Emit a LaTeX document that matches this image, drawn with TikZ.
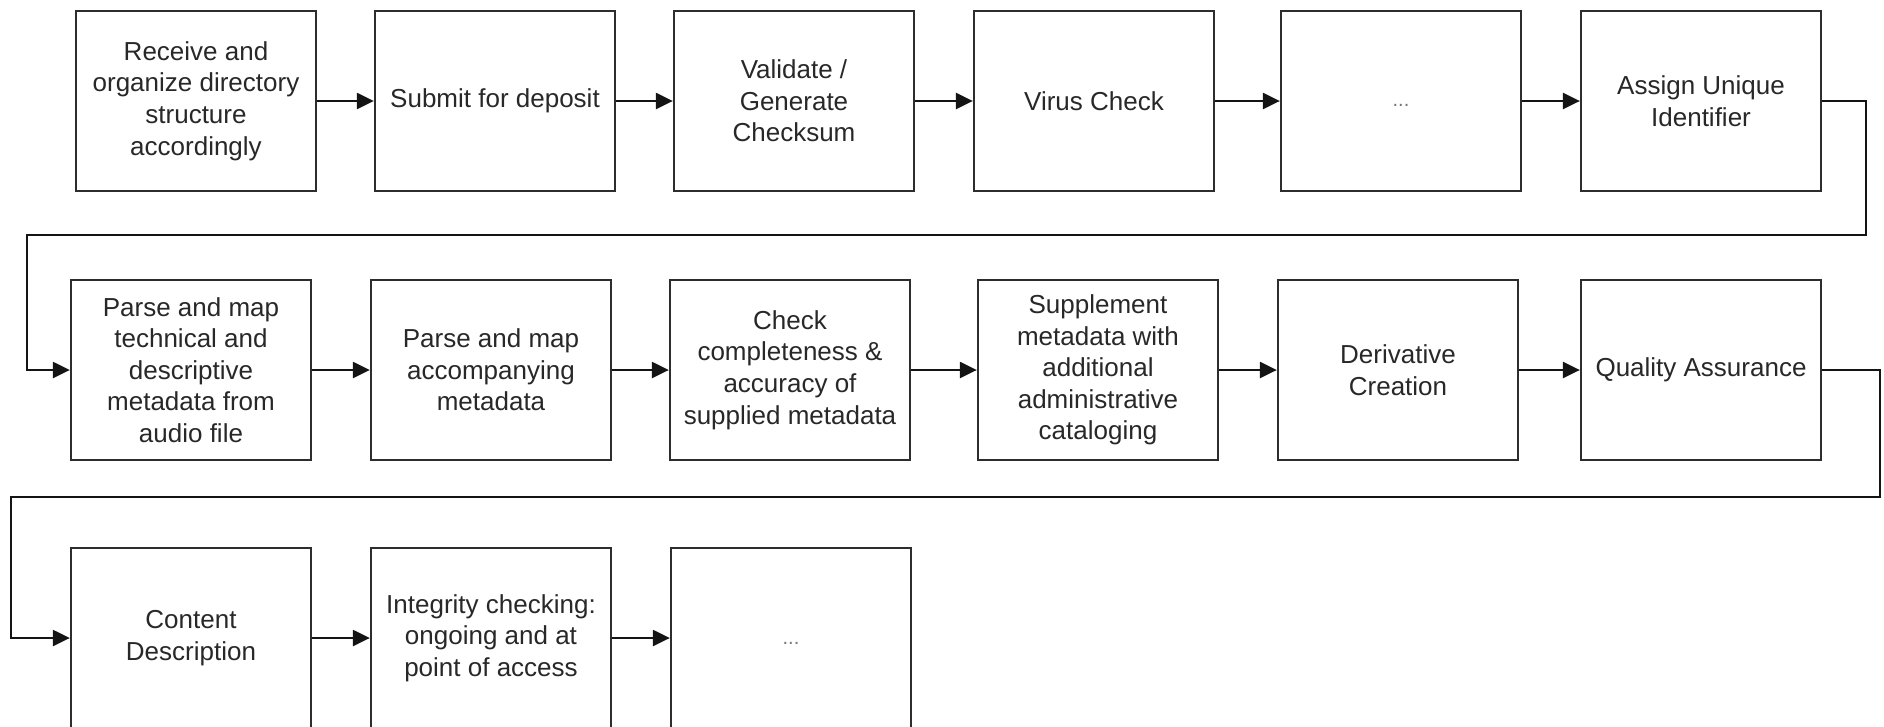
\documentclass[tikz,border=0pt]{standalone}
\usepackage{fontspec}
\setmainfont{Liberation Sans}
\usetikzlibrary{arrows.meta}
\definecolor{boxline}{RGB}{45,45,45}
\definecolor{linkline}{RGB}{20,20,20}
\definecolor{txt}{RGB}{40,40,40}
\definecolor{dots}{RGB}{120,120,120}
\begin{document}
\begin{tikzpicture}[x=1pt,y=-1pt,
  stepbox/.style={draw=boxline, line width=2.3pt, fill=white,
    minimum width=240pt, minimum height=180pt, inner sep=0pt,
    align=center, text=txt, font=\fontsize{26}{31.6}\selectfont},
  link/.style={draw=linkline, line width=2.3pt,
    -{Triangle[length=17pt,width=16pt]}},
  more/.style={text=dots, font=\fontsize{20}{24}\selectfont}
]
\useasboundingbox (0,0) rectangle (1884,726);

% first row
\node[stepbox] (b1) at (196,101) {Receive and\\organize directory\\structure\\accordingly};
\node[stepbox] (b2) at (495,101) {Submit for deposit};
\node[stepbox] (b3) at (794,101) {Validate /\\Generate\\Checksum};
\node[stepbox] (b4) at (1094,101) {Virus Check};
\node[stepbox] (b5) at (1401,101) {};
\node[more] at ([yshift=-4pt]b5.center) {...};
\node[stepbox] (b6) at (1701,101) {Assign Unique\\Identifier};

% second row
\node[stepbox] (b7) at (191,370) {Parse and map\\technical and\\descriptive\\metadata from\\audio file};
\node[stepbox] (b8) at (491,370) {Parse and map\\accompanying\\metadata};
\node[stepbox] (b9) at (790,370) {Check\\completeness \&\\accuracy of\\supplied metadata};
\node[stepbox] (b10) at (1098,370) {Supplement\\metadata with\\additional\\administrative\\cataloging};
\node[stepbox] (b11) at (1398,370) {Derivative\\Creation};
\node[stepbox] (b12) at (1701,370) {Quality Assurance};

% third row
\node[stepbox] (b13) at (191,638) {Content\\Description};
\node[stepbox] (b14) at (491,638) {Integrity checking:\\ongoing and at\\point of access};
\node[stepbox] (b15) at (791,638) {};
\node[more] at ([yshift=-5pt]b15.center) {...};

% arrows within rows
\draw[link] (b1) -- (b2);
\draw[link] (b2) -- (b3);
\draw[link] (b3) -- (b4);
\draw[link] (b4) -- (b5);
\draw[link] (b5) -- (b6);
\draw[link] (b7) -- (b8);
\draw[link] (b8) -- (b9);
\draw[link] (b9) -- (b10);
\draw[link] (b10) -- (b11);
\draw[link] (b11) -- (b12);
\draw[link] (b13) -- (b14);
\draw[link] (b14) -- (b15);

% wrap-around connectors between rows
\coordinate (r1) at (1866,235);
\coordinate (l1) at (27,235);
\coordinate (r2) at (1880,497);
\coordinate (l2) at (11,497);
\draw[link] (b6.east) -| (r1) -- (l1) |- (b7.west);
\draw[link] (b12.east) -| (r2) -- (l2) |- (b13.west);
\end{tikzpicture}
\end{document}
